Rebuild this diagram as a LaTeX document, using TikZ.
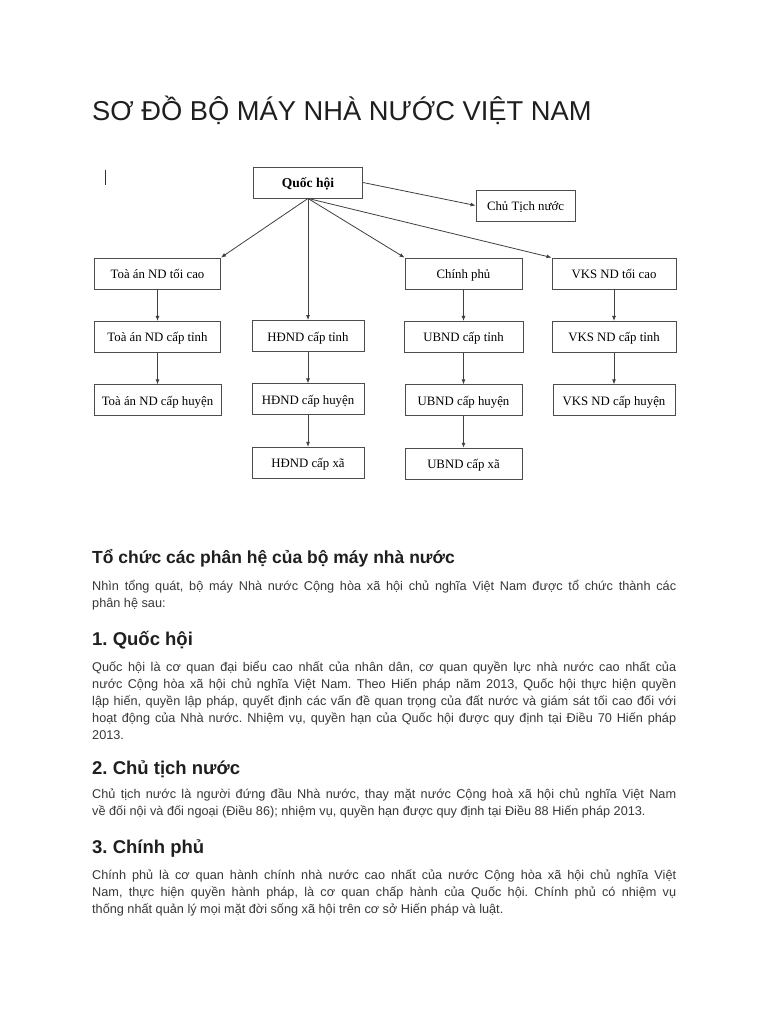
\documentclass[tikz,border=0pt]{standalone}
\usepackage{fontspec}
\setmainfont{Liberation Serif}
\setsansfont{Liberation Sans}
\usetikzlibrary{arrows.meta,positioning}
\frenchspacing

\begin{document}
\begin{tikzpicture}[x=1pt, y=-1pt, node distance=31.5pt and 30pt, font=\fontsize{12.8}{14}\selectfont]
\tikzstyle{box}=[rectangle, draw=black!70, line width=0.9pt, minimum height=31pt, text height=10pt, text depth=0pt, inner sep=2pt, align=center, fill=white]
\tikzstyle{link}=[draw=black!75, line width=0.8pt, -{Latex[length=5pt,width=4pt]}]
\tikzstyle{para}=[anchor=base west, inner sep=0pt, text width=584pt, align=justify, text=black!78, font=\sffamily\fontsize{12.7}{17}\selectfont]
\tikzstyle{head}=[anchor=base west, inner sep=0pt, text=black!88, font=\sffamily\bfseries\fontsize{17.5}{20}\selectfont]
\useasboundingbox (0,0) rectangle (768,1024);
\fill[white] (0,0) rectangle (768,1024);
% title
\node[anchor=base west, inner sep=0pt, text=black!88, font=\sffamily\fontsize{27.3}{30}\selectfont] (title) at (92,121) {SƠ ĐỒ BỘ MÁY NHÀ NƯỚC VIỆT NAM};
\draw[black!80, line width=1pt] (105,170) -- (105,185);
% diagram
\node[box, minimum width=109pt, font=\bfseries\fontsize{13.5}{15}\selectfont] (qh) at (308,182.5) {Quốc hội};
\node[box, minimum width=99pt] (ctn) at (525.5,205.5) {Chủ Tịch nước};
\node[box, minimum width=126pt] (tatc) at (157.5,273.5) {Toà án ND tối cao};
\node[box, minimum width=117pt] (cp) at (463.5,273.5) {Chính phủ};
\node[box, minimum width=124pt] (vks) at (614,273.5) {VKS ND tối cao};
\node[box, minimum width=126pt, below=of tatc] (tat) {Toà án ND cấp tỉnh};
\node[box, minimum width=112pt] (hdt) at (308,336) {HĐND cấp tỉnh};
\node[box, minimum width=119pt, below=of cp] (ubt) {UBND cấp tỉnh};
\node[box, minimum width=124pt, below=of vks] (vkt) {VKS ND cấp tỉnh};
\node[box, minimum width=127pt, below=of tat] (tah) {Toà án ND cấp huyện};
\node[box, minimum width=112pt, below=of hdt] (hdh) {HĐND cấp huyện};
\node[box, minimum width=117pt, below=of ubt] (ubh) {UBND cấp huyện};
\node[box, minimum width=122pt, below=of vkt] (vkh) {VKS ND cấp huyện};
\node[box, minimum width=112pt, below=of hdh] (hdx) {HĐND cấp xã};
\node[box, minimum width=117pt, below=of ubh] (ubx) {UBND cấp xã};
\draw[link] (qh.east) -- (ctn.west);
\draw[link] (qh.south) -- (tatc.north east);
\draw[link] (qh.south) -- (hdt.north);
\draw[link] (qh.south) -- (cp.north west);
\draw[link] (qh.south) -- (vks.north west);
\foreach \a/\b in {tatc/tat, tat/tah, hdt/hdh, hdh/hdx, cp/ubt, ubt/ubh, ubh/ubx, vks/vkt, vkt/vkh}
  \draw[link] (\a) -- (\b);
% text
\node[head] (h0) at (92,563) {Tổ chức các phân hệ của bộ máy nhà nước};
\node[para] (p0) at (92,590) {Nhìn tổng quát, bộ máy Nhà nước Cộng hòa xã hội chủ nghĩa Việt Nam được tổ chức thành các\linebreak phân hệ sau:};
\node[head, font=\sffamily\bfseries\fontsize{18.5}{20}\selectfont] (h1) at (92,645) {1. Quốc hội};
\node[para] (p1) at (92,671) {Quốc hội là cơ quan đại biểu cao nhất của nhân dân, cơ quan quyền lực nhà nước cao nhất của\linebreak nước Cộng hòa xã hội chủ nghĩa Việt Nam. Theo Hiến pháp năm 2013, Quốc hội thực hiện quyền\linebreak lập hiến, quyền lập pháp, quyết định các vấn đề quan trọng của đất nước và giám sát tối cao đối với\linebreak hoạt động của Nhà nước. Nhiệm vụ, quyền hạn của Quốc hội được quy định tại Điều 70 Hiến pháp\linebreak 2013.};
\node[head, font=\sffamily\bfseries\fontsize{18.5}{20}\selectfont] (h2) at (92,774) {2. Chủ tịch nước};
\node[para] (p2) at (92,798) {Chủ tịch nước là người đứng đầu Nhà nước, thay mặt nước Cộng hoà xã hội chủ nghĩa Việt Nam\linebreak về đối nội và đối ngoại (Điều 86); nhiệm vụ, quyền hạn được quy định tại Điều 88 Hiến pháp 2013.};
\node[head, font=\sffamily\bfseries\fontsize{18.5}{20}\selectfont] (h3) at (92,853) {3. Chính phủ};
\node[para] (p3) at (92,879) {Chính phủ là cơ quan hành chính nhà nước cao nhất của nước Cộng hòa xã hội chủ nghĩa Việt\linebreak Nam, thực hiện quyền hành pháp, là cơ quan chấp hành của Quốc hội. Chính phủ có nhiệm vụ\linebreak thống nhất quản lý mọi mặt đời sống xã hội trên cơ sở Hiến pháp và luật.};
\end{tikzpicture}
\end{document}
